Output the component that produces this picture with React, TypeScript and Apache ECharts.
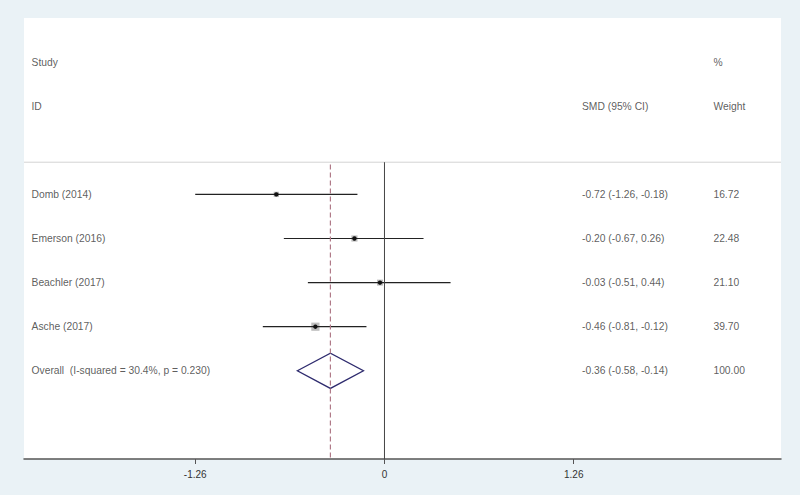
import React, { useEffect, useRef } from "react";
import * as echarts from "echarts";

const studies = ["Domb (2014)", "Emerson (2016)", "Beachler (2017)", "Asche (2017)"];
const smd = [-0.72, -0.2, -0.03, -0.46];
const lower = [-1.26, -0.67, -0.51, -0.81];
const upper = [-0.18, 0.26, 0.44, -0.12];
const weights = [16.72, 22.48, 21.1, 39.7];
const smdLabels = ["-0.72 (-1.26, -0.18)", "-0.20 (-0.67, 0.26)", "-0.03 (-0.51, 0.44)", "-0.46 (-0.81, -0.12)"];
const weightLabels = ["16.72", "22.48", "21.10", "39.70"];

const overallLabel = "Overall  (I-squared = 30.4%, p = 0.230)";
const overallSmd = -0.36;
const overallLower = -0.58;
const overallUpper = -0.14;
const overallSmdLabel = "-0.36 (-0.58, -0.14)";
const overallWeightLabel = "100.00";

const tickValues = [-1.26, 0, 1.26];
const tickLabels = ["-1.26", "0", "1.26"];

// layout rows (top to bottom)
const ROW_STUDY = 0;
const ROW_ID = 1;
const FIRST_STUDY_ROW = 3;
const OVERALL_ROW = 7;
const HEADER_LINE = 2.27;
const Y_MIN = -1;
const Y_MAX = 9;
const X_MIN = -2.4;
const X_MAX = 2.64;
const COL_LEFT = -2.35;
const COL_SMD = 1.315;
const COL_WEIGHT = 2.19;

export default function App() {
  const ref = useRef<HTMLDivElement>(null);

  useEffect(() => {
    if (!ref.current) return;
    const chart = echarts.init(ref.current, null, { renderer: "svg" });

    const textStyle = {
      fontFamily: "Liberation Sans, Arial, sans-serif",
      fontSize: 10.3,
      color: "#333",
    };

    const textData: any[] = [];
    textData.push([COL_LEFT, ROW_STUDY, "Study"]);
    textData.push([COL_LEFT, ROW_ID, "ID"]);
    textData.push([COL_SMD, ROW_ID, "SMD (95% CI)"]);
    textData.push([COL_WEIGHT, ROW_STUDY, "%"]);
    textData.push([COL_WEIGHT, ROW_ID, "Weight"]);
    studies.forEach((s, i) => {
      const r = FIRST_STUDY_ROW + i;
      textData.push([COL_LEFT, r, s]);
      textData.push([COL_SMD, r, smdLabels[i]]);
      textData.push([COL_WEIGHT, r, weightLabels[i]]);
    });
    textData.push([COL_LEFT, OVERALL_ROW, overallLabel]);
    textData.push([COL_SMD, OVERALL_ROW, overallSmdLabel]);
    textData.push([COL_WEIGHT, OVERALL_ROW, overallWeightLabel]);

    const ciData = studies.map((_, i) => [lower[i], upper[i], FIRST_STUDY_ROW + i, smd[i], weights[i]]);

    const option: any = {
      animation: false,
      backgroundColor: "#eaf2f6",
      grid: {
        left: 24,
        right: 19,
        top: 18,
        bottom: 36,
        show: true,
        backgroundColor: "#ffffff",
        borderWidth: 0,
      },
      xAxis: {
        type: "value",
        min: X_MIN,
        max: X_MAX,
        splitLine: { show: false },
        axisLine: { show: true, onZero: false, lineStyle: { color: "#555", width: 1.5 } },
        axisTick: { show: true, customValues: tickValues, length: 5, lineStyle: { color: "#555" } },
        axisLabel: {
          show: true,
          customValues: tickValues,
          margin: 10,
          fontFamily: "Liberation Sans, Arial, sans-serif",
          fontSize: 10,
          color: "#333",
          formatter: (v: number) => {
            const idx = tickValues.findIndex((t) => Math.abs(t - v) < 1e-6);
            return idx >= 0 ? tickLabels[idx] : "";
          },
        },
      },
      yAxis: {
        type: "value",
        min: Y_MIN,
        max: Y_MAX,
        inverse: true,
        show: false,
      },
      series: [
        {
          type: "line",
          name: "header",
          data: [
            [X_MIN, HEADER_LINE],
            [X_MAX, HEADER_LINE],
          ],
          symbol: "none",
          lineStyle: { color: "#d4d4d4", width: 1 },
          silent: true,
        },
        {
          type: "line",
          name: "null",
          data: [
            [0, HEADER_LINE],
            [0, Y_MAX],
          ],
          symbol: "none",
          lineStyle: { color: "#444", width: 1 },
          silent: true,
        },
        {
          type: "line",
          name: "overallLine",
          data: [
            [overallSmd, HEADER_LINE + 0.05],
            [overallSmd, Y_MAX],
          ],
          symbol: "none",
          lineStyle: { color: "#b07a88", width: 1.2, type: [5, 3] },
          silent: true,
        },
        {
          type: "custom",
          name: "ci",
          data: ciData,
          renderItem: (params: any, api: any) => {
            const lo = api.coord([api.value(0), api.value(2)]);
            const hi = api.coord([api.value(1), api.value(2)]);
            const c = api.coord([api.value(3), api.value(2)]);
            const side = 1.3 * Math.sqrt(api.value(4));
            return {
              type: "group",
              children: [
                {
                  type: "rect",
                  shape: { x: c[0] - side / 2, y: c[1] - side / 2, width: side, height: side },
                  style: { fill: "#bdbdbd" },
                },
                {
                  type: "line",
                  shape: { x1: lo[0], y1: lo[1], x2: hi[0], y2: hi[1] },
                  style: { stroke: "#222", lineWidth: 1.2 },
                },
                {
                  type: "circle",
                  shape: { cx: c[0], cy: c[1], r: 2.2 },
                  style: { fill: "#111" },
                },
              ],
            };
          },
        },
        {
          type: "custom",
          name: "overall",
          data: [[overallLower, overallSmd, overallUpper, OVERALL_ROW]],
          renderItem: (params: any, api: any) => {
            const r = api.value(3);
            const l = api.coord([api.value(0), r]);
            const t = api.coord([api.value(1), r - 0.4]);
            const rr = api.coord([api.value(2), r]);
            const b = api.coord([api.value(1), r + 0.4]);
            return {
              type: "polygon",
              shape: { points: [l, t, rr, b] },
              style: { fill: "none", stroke: "#2e2b6e", lineWidth: 1.3 },
            };
          },
        },
        {
          type: "scatter",
          name: "text",
          data: textData,
          symbolSize: 0,
          silent: true,
          label: {
            show: true,
            position: "right",
            distance: 0,
            formatter: (p: any) => p.value[2],
            ...textStyle,
          },
        },
      ],
    };

    chart.setOption(option);
    return () => chart.dispose();
  }, []);

  return <div ref={ref} style={{ position: "fixed", left: 0, top: 0, width: 800, height: 495 }} />;
}
